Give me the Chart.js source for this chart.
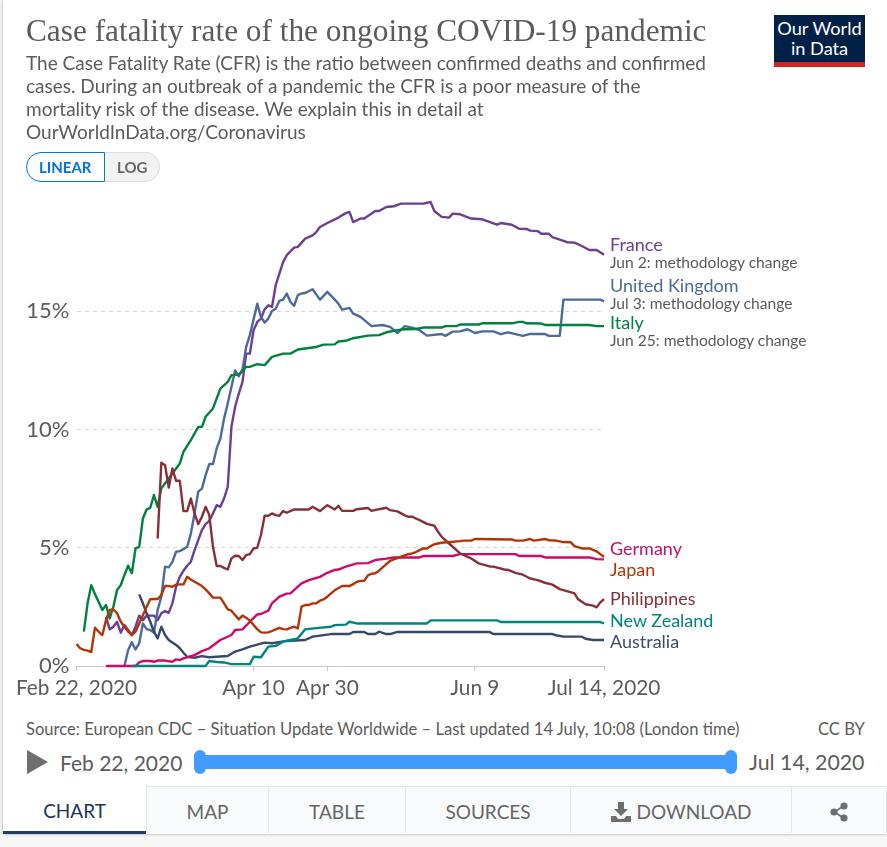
<!DOCTYPE html>
<html><head><meta charset="utf-8">
<script src="https://cdn.jsdelivr.net/npm/chart.js@4"></script>
<style>
html,body{margin:0;padding:0;background:#f7f7f7;}
#page{position:absolute;left:3px;top:0;width:884px;height:834px;background:#fff;box-shadow:0 0 3px rgba(0,0,0,.35);font-family:Lato,sans-serif;color:#5b5b5b;overflow:hidden}
#wrap{position:absolute;left:0;top:0;width:887px;height:847px;overflow:hidden}
.t{position:absolute;white-space:nowrap;font-family:Lato,sans-serif;line-height:1}
canvas{position:absolute;left:0;top:0}
#tabs div{position:absolute;top:786px;height:47px;background:#f9fafc;border:1px solid #e4e6ea;border-bottom:none;box-sizing:border-box;text-align:center;line-height:50px;font-size:19px;color:#666;font-family:Lato,sans-serif}
</style></head><body>
<div id="wrap">
<div id="page"></div>
<canvas id="c" width="887" height="700" style="width:887px;height:700px"></canvas>
<div class="t" style="left:26px;top:15px;font-family:'Liberation Serif',serif;font-size:31.3px;color:#5b5b5b" id="title">Case fatality rate of the ongoing COVID-19 pandemic</div>
<div class="t" style="left:26px;top:53px;font-size:19px;color:#5b5b5b">The Case Fatality Rate (CFR) is the ratio between confirmed deaths and confirmed</div>
<div class="t" style="left:26px;top:76px;font-size:19px;color:#5b5b5b">cases. During an outbreak of a pandemic the CFR is a poor measure of the</div>
<div class="t" style="left:26px;top:99px;font-size:19px;color:#5b5b5b">mortality risk of the disease. We explain this in detail at</div>
<div class="t" style="left:26px;top:122px;font-size:19px;color:#5b5b5b">OurWorldInData.org/Coronavirus</div>
<div style="position:absolute;left:774px;top:15px;width:91px;height:52px;background:#002147;border-bottom:5px solid #ce261e;box-sizing:border-box"></div>
<div class="t" style="left:774px;top:19px;width:91px;text-align:center;font-size:18.2px;color:#fff">Our World</div>
<div class="t" style="left:774px;top:39px;width:91px;text-align:center;font-size:18.2px;color:#fff">in Data</div>
<div style="position:absolute;left:104px;top:152px;width:56px;height:30px;background:#f2f2f2;border:1px solid #ddd;border-left:none;border-radius:0 15px 15px 0;box-sizing:border-box"></div>
<div style="position:absolute;left:26px;top:152px;width:79px;height:30px;background:#fff;border:1px solid #0073e6;border-radius:15px 0 0 15px;box-sizing:border-box"></div>
<div class="t" style="left:39px;top:160px;font-size:15px;font-weight:700;color:#0073e6">LINEAR</div>
<div class="t" style="left:117px;top:160px;font-size:15px;font-weight:700;color:#666">LOG</div>

<div class="t" style="left:610px;top:235px;font-size:18px;color:#6d3e91">France</div>
<div class="t" style="left:610px;top:255px;font-size:15.6px;color:#5b5b5b">Jun 2: methodology change</div>
<div class="t" style="left:610px;top:276px;font-size:18px;color:#4c6a9c">United Kingdom</div>
<div class="t" style="left:610px;top:296px;font-size:15.6px;color:#5b5b5b">Jul 3: methodology change</div>
<div class="t" style="left:610px;top:313px;font-size:18px;color:#00813f">Italy</div>
<div class="t" style="left:610px;top:333px;font-size:15.6px;color:#5b5b5b">Jun 25: methodology change</div>
<div class="t" style="left:610px;top:539px;font-size:18px;color:#c70e6b">Germany</div>
<div class="t" style="left:610px;top:560px;font-size:18px;color:#b13507">Japan</div>
<div class="t" style="left:610px;top:589px;font-size:18px;color:#883039">Philippines</div>
<div class="t" style="left:610px;top:611px;font-size:18px;color:#00847e">New Zealand</div>
<div class="t" style="left:610px;top:632px;font-size:18px;color:#3c4e66">Australia</div>

<div class="t" style="left:26px;top:721px;font-size:16.6px;color:#5b5b5b">Source: European CDC – Situation Update Worldwide – Last updated 14 July, 10:08 (London time)</div>
<div class="t" style="left:818px;top:721px;font-size:16.6px;color:#5b5b5b">CC BY</div>
<svg style="position:absolute;left:27px;top:750px" width="22" height="24"><path d="M0 0L21 12L0 24Z" fill="#6e6e6e"/></svg>
<div class="t" style="left:60px;top:752px;font-size:21px;color:#5b5b5b">Feb 22, 2020</div>
<div style="position:absolute;left:199px;top:755px;width:533px;height:14px;background:#429cff"></div>
<div style="position:absolute;left:194px;top:750px;width:12px;height:24px;border-radius:6px;background:#429cff"></div>
<div style="position:absolute;left:725px;top:750px;width:12px;height:24px;border-radius:6px;background:#429cff"></div>
<div class="t" style="left:749px;top:752px;font-size:21.3px;color:#5b5b5b">Jul 14, 2020</div>

<div id="tabs">
<div style="left:146px;width:123px">MAP</div>
<div style="left:268px;width:138px">TABLE</div>
<div style="left:405px;width:166px">SOURCES</div>
<div style="left:570px;width:222px"><svg width="20" height="20" viewBox="0 0 20 20" style="vertical-align:-3px;margin-right:6px"><path d="M7 0h6v7h4l-7 7-7-7h4zM0 14h5l2 3h6l2-3h5v6H0z" fill="#6e6e6e"/></svg>DOWNLOAD</div>
<div style="left:791px;width:96px"><svg width="20" height="20" viewBox="0 0 20 20" style="vertical-align:-3px"><circle cx="15" cy="4" r="3.6" fill="#6e6e6e"/><circle cx="5" cy="10" r="3.6" fill="#6e6e6e"/><circle cx="15" cy="16" r="3.6" fill="#6e6e6e"/><path d="M15 4L5 10L15 16" stroke="#6e6e6e" stroke-width="1.6" fill="none"/></svg></div>
<div style="left:3px;width:143px;background:#fff;border:none;border-bottom:3px solid #1d3d63;height:48px;color:#1d3557">CHART</div>
</div>
</div>
<script>
const xTickDays = [0, 48, 68, 108, 143];
const xTickLabels = ['Feb 22, 2020', 'Apr 10', 'Apr 30', 'Jun 9', 'Jul 14, 2020'];
const yTickValues = [0, 5, 10, 15];

const japanDays = [0,1,2,3,4,5,6,7,8,9,10,11,12,13,14,15,16,17,18,19,20,21,22,23,24,25,26,27,28,29,30,31,32,33,34,35,36,37,38,39,40,41,42,43,44,45,46,47,48,49,50,51,52,53,54,55,56,57,58,59,60,61,62,63,64,65,66,67,68,69,70,72,74,75,76,77,78,79,80,81,82,83,84,85,86,87,88,89,90,91,92,93,94,95,96,97,98,99,104,105,107,108,118,119,121,123,124,127,128,130,132,134,135,137,139,141,142,143];
const japanVals = [.93,.75,.68,.65,.59,1.62,1.45,1.3,1.94,2.37,2.39,2.23,1.87,1.66,1.45,1.31,1.45,1.8,2.15,2.5,2.82,2.83,2.83,3.0,3.39,3.38,3.35,3.44,3.45,3.45,3.77,3.66,3.56,3.48,3.38,3.24,3.07,2.89,2.89,2.89,2.65,2.39,2.34,2.15,1.97,2.13,2.04,1.92,1.73,1.56,1.42,1.41,1.42,1.48,1.55,1.61,1.56,1.55,1.61,1.66,1.59,2.51,2.58,2.58,2.65,2.65,2.76,2.82,2.93,3.07,3.2,3.38,3.38,3.46,3.56,3.6,3.6,3.83,3.9,3.92,4.03,4.17,4.31,4.44,4.51,4.56,4.62,4.68,4.73,4.76,4.82,4.9,4.97,4.97,5.07,5.15,5.18,5.21,5.28,5.3,5.3,5.37,5.35,5.3,5.3,5.37,5.3,5.37,5.32,5.3,5.24,5.23,5.07,4.97,4.97,4.85,4.73,4.62,4.51,4.39];

const philippinesDays = [22,23,24,25,26,27,28,29,30,31,32,33,34,35,36,37,38,39,40,41,42,43,44,45,46,47,48,49,50,51,52,53,54,55,56,57,59,63,64,66,68,70,71,72,75,76,79,80,82,84,85,87,89,90,91,93,95,97,98,99,101,103,104,107,109,112,113,116,117,119,121,123,125,127,129,131,132,135,136,138,140,141,142,143];
const philippinesVals = [5.39,8.6,8.49,7.55,8.35,7.83,7.83,6.55,6.55,7.08,6.45,6.0,6.31,6.73,6.38,5.04,4.23,4.23,4.15,4.08,4.55,4.66,4.65,4.48,4.69,4.73,4.97,5.0,5.54,6.35,6.35,6.45,6.38,6.35,6.55,6.48,6.62,6.62,6.73,6.55,6.8,6.62,6.77,6.56,6.56,6.63,6.68,6.56,6.63,6.69,6.59,6.54,6.37,6.31,6.31,6.17,6.01,5.93,5.68,5.46,5.18,4.9,4.76,4.55,4.34,4.21,4.2,4.08,4.06,3.94,3.86,3.7,3.63,3.52,3.44,3.25,3.21,3.07,2.82,2.61,2.55,2.48,2.69,2.83];

const germanyDays = [8,16,17,18,20,21,22,24,26,27,28,29,32,34,36,39,42,43,45,47,49,50,52,53,55,57,58,61,63,66,68,70,71,73,76,79,81,84,86,93,94,102,104,119,120,126,127,139,141,143];
const germanyVals = [0,0,.15,.21,.21,.18,.23,.23,.18,.28,.25,.32,.46,.63,.75,1.1,1.31,1.52,1.55,1.87,2.18,2.2,2.34,2.65,2.93,3.06,3.07,3.49,3.63,3.77,3.94,4.06,4.08,4.2,4.34,4.35,4.48,4.54,4.59,4.59,4.65,4.65,4.73,4.73,4.65,4.65,4.59,4.59,4.52,4.51];

const newZealandDays = [15,35,36,38,40,42,47,48,50,52,54,56,58,60,62,65,69,70,73,74,76,95,96,114,115,142,143];
const newZealandVals = [0,0,.21,.17,.15,.08,.08,.39,.37,.82,.85,1.03,1.1,1.17,1.55,1.6,1.66,1.73,1.75,1.87,1.8,1.8,1.93,1.93,1.86,1.86,1.8];

const australiaDays = [17,18,19,20,21,22,23,24,25,27,28,29,30,32,34,36,41,43,45,47,51,53,57,62,64,69,74,75,78,79,81,82,84,85,87,112,113,129,130,132,137,138,140,143];
const australiaVals = [3.03,2.65,2.23,1.87,1.45,1.17,1.66,1.31,1.1,.89,.75,.56,.39,.35,.42,.37,.42,.61,.7,.82,.99,.96,1.06,1.1,1.24,1.35,1.35,1.44,1.44,1.35,1.35,1.45,1.35,1.35,1.44,1.44,1.35,1.35,1.3,1.24,1.24,1.15,1.1,1.1];

const italyDays = [2,3,4,5,6,7,8,9,10,11,12,13,14,15,16,17,18,19,20,21,22,23,25,28,29,31,33,34,35,37,39,41,42,44,46,47,49,51,53,56,58,60,65,67,70,71,73,75,79,82,84,87,89,92,94,99,100,103,104,109,110,118,120,121,122,126,127,139,141,143];
const italyVals = [1.45,2.65,3.42,3.04,2.72,2.37,2.58,2.01,2.51,3.21,3.42,3.85,4.24,3.92,4.97,5.04,6.24,6.62,6.69,7.23,6.73,7.51,7.93,8.56,9.06,9.55,10.11,10.11,10.54,10.89,11.73,12.01,12.3,12.32,12.65,12.65,12.76,12.72,13.07,13.21,13.21,13.38,13.49,13.59,13.6,13.72,13.75,13.86,13.97,13.99,14.11,14.2,14.24,14.25,14.31,14.31,14.37,14.37,14.44,14.44,14.49,14.49,14.55,14.55,14.49,14.48,14.42,14.42,14.37,14.37];

const ukDays = [13,14,15,16,17,18,19,20,21,22,23,24,25,26,27,28,29,30,31,32,33,34,35,36,37,38,39,40,41,43,44,45,46,47,49,50,51,52,53,54,55,56,57,58,59,60,61,62,64,66,68,70,71,72,74,75,77,80,83,85,87,89,91,93,95,99,100,102,104,106,108,110,113,115,117,121,123,127,128,131,132,142,143];
const ukVals = [0,.68,1.0,.7,.96,1.8,1.56,1.52,1.41,2.37,2.93,4.2,4.17,4.4,4.83,4.86,4.94,5.04,5.6,6.45,7.37,7.5,8.07,8.54,8.54,9.2,9.62,10.46,11.1,12.5,12.25,12.54,13.49,13.99,15.32,14.76,14.52,14.69,15.01,15.11,15.44,15.49,15.75,15.39,15.23,15.68,15.75,15.77,15.93,15.49,15.82,15.49,15.32,15.07,15.14,14.9,14.76,14.37,14.42,14.34,14.08,14.37,14.31,14.2,13.97,14.04,13.96,14.14,14.15,14.24,14.08,14.15,14.15,14.03,14.11,13.96,14.04,14.04,13.96,13.96,15.49,15.49,15.42];

const franceDays = [8,9,10,11,12,13,14,15,16,17,18,19,20,21,22,23,24,25,26,27,28,29,30,31,32,33,34,35,36,37,38,39,40,41,42,43,44,45,46,47,48,49,50,51,52,53,54,55,56,57,59,60,62,64,65,66,68,71,73,74,75,77,78,81,82,84,86,88,94,96,97,99,101,102,104,107,110,114,115,118,120,122,123,125,126,128,129,133,135,137,139,141,143];
const franceVals = [2.08,1.55,1.66,1.87,1.41,1.73,1.52,1.31,1.66,2.13,1.94,2.13,2.13,2.13,1.94,2.23,2.32,2.25,2.65,3.35,3.77,4.03,4.24,4.41,4.9,5.32,5.75,6.0,6.14,6.45,6.8,6.73,7.08,7.58,10.11,10.96,11.52,12.01,13.21,13.21,14.2,14.55,14.69,15.08,15.25,15.18,16.1,16.59,17.08,17.37,17.69,17.72,18.07,18.21,18.35,18.56,18.73,18.96,19.15,19.2,18.77,18.92,18.92,19.24,19.24,19.41,19.44,19.55,19.55,19.62,19.24,18.99,18.96,19.13,19.1,18.92,18.89,18.66,18.73,18.66,18.49,18.48,18.41,18.39,18.28,18.28,18.13,17.92,17.9,17.76,17.59,17.59,17.39];

const seriesDefs = [
  ['Japan', japanDays, japanVals, '#b13507'],
  ['Philippines', philippinesDays, philippinesVals, '#883039'],
  ['New Zealand', newZealandDays, newZealandVals, '#00847e'],
  ['Germany', germanyDays, germanyVals, '#cf0a66'],
  ['Australia', australiaDays, australiaVals, '#38486b'],
  ['Italy', italyDays, italyVals, '#00813f'],
  ['United Kingdom', ukDays, ukVals, '#4c6a9c'],
  ['France', franceDays, franceVals, '#6d3e91']
];

new Chart(document.getElementById('c'), {
  type: 'line',
  data: { datasets: seriesDefs.map(([label, d, v, color]) => ({
    label, borderColor: color, backgroundColor: color,
    data: d.map((x, i) => ({ x, y: v[i] })),
    borderWidth: 2.4, pointRadius: 0, tension: 0, borderJoinStyle: 'round', clip: false
  })) },
  options: {
    responsive: false, animation: false,
    layout: { padding: { top: 193, right: 283, left: 0, bottom: 0 } },
    plugins: { legend: { display: false }, tooltip: { enabled: false } },
    scales: {
      x: {
        type: 'linear', min: 0, max: 143,
        afterBuildTicks: s => { s.ticks = xTickDays.map(value => ({ value })); },
        afterFit: s => { s.height = 34; },
        ticks: { autoSkip: false, maxRotation: 0, padding: 5, color: '#5b5b5b',
          font: { family: 'Lato', size: 20.8 },
          callback: v => xTickLabels[xTickDays.indexOf(v)] },
        grid: { drawOnChartArea: false, drawTicks: true, tickLength: 5, color: '#ccc' },
        border: { color: '#ccc' }
      },
      y: {
        min: 0, max: 20,
        afterBuildTicks: s => { s.ticks = yTickValues.map(value => ({ value })); },
        afterFit: s => { s.width = 76.5; },
        ticks: { padding: 7, color: '#5b5b5b', font: { family: 'Lato', size: 22 },
          callback: v => v + '%' },
        grid: { drawTicks: false, lineWidth: 1, color: c => c.tick && c.tick.value === 0 ? 'rgba(0,0,0,0)' : '#d4d4d4' },
        border: { display: false, dash: [4, 4] }
      }
    }
  }
});
</script>
</body></html>
